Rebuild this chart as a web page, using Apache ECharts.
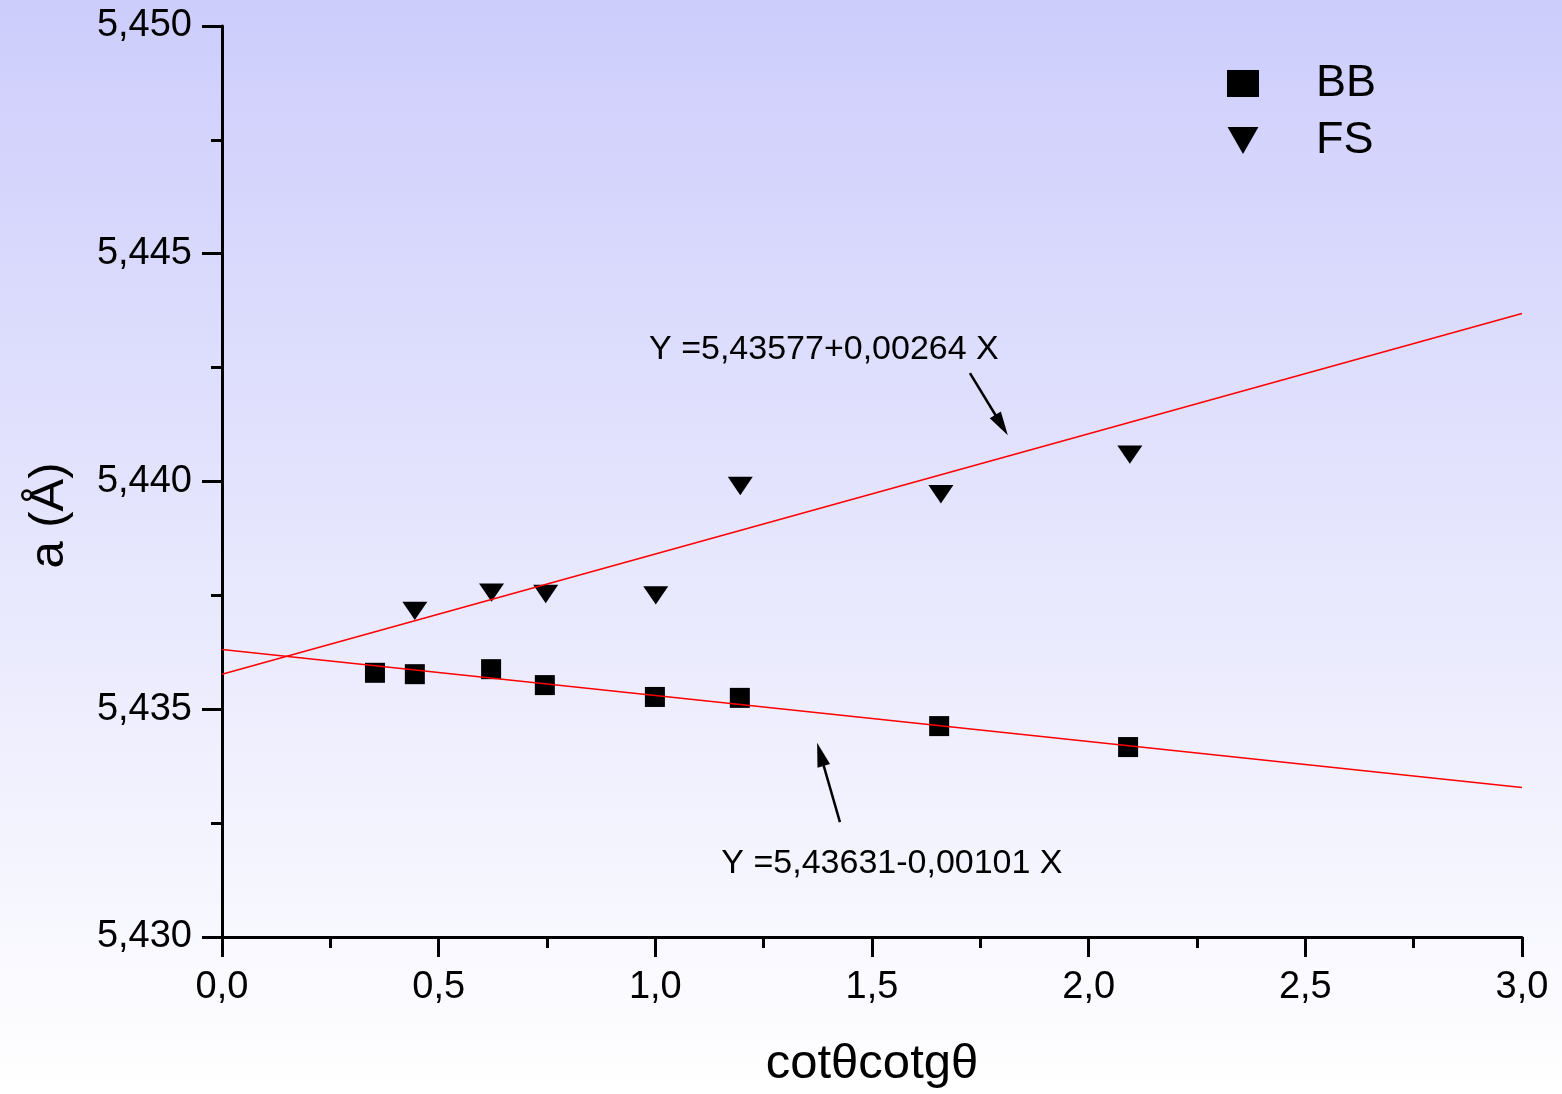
<!DOCTYPE html>
<html><head><meta charset="utf-8">
<script src="https://cdn.jsdelivr.net/npm/echarts@6/dist/echarts.min.js"></script>
<style>html,body{margin:0;padding:0;background:#fff;}#c{width:1562px;height:1094px;}</style>
</head><body><div id="c"></div>
<script>
// ---- data ----
const seriesNames = ['BB', 'FS'];
const bbX = [0.353, 0.445, 0.621, 0.745, 0.999, 1.195, 1.655, 2.091];
const bbY = [5.43580, 5.43577, 5.43588, 5.43553, 5.43527, 5.43525, 5.43463, 5.43417];
const fsX = [0.445, 0.622, 0.747, 1.001, 1.196, 1.659, 2.095];
const fsY = [5.43716, 5.43756, 5.43753, 5.43750, 5.43990, 5.43972, 5.44059];
const bbFitX = [0, 3];
const bbFitY = [5.43631, 5.43328];
const fsFitX = [0, 3];
const fsFitY = [5.43577, 5.44369];
const noteTexts = ['Y =5,43577+0,00264 X', 'Y =5,43631-0,00101 X'];
const noteX = [1.389, 1.546];
const noteY = [5.44290, 5.43162];
const arrowFromX = [1.726, 1.426];
const arrowFromY = [5.44238, 5.43252];
const arrowToX = [1.799, 1.381];
const arrowToY = [5.44124, 5.43401];
const xTitle = 'cotθcotgθ';
const yTitle = 'a (Å)';

const pairs = (xs, ys) => xs.map((x, i) => [x, ys[i]]);
const FONT = '"Liberation Sans", Arial, sans-serif';
const TRI = 'path://M0,0 L200,0 L100,175 Z';

const chart = echarts.init(document.getElementById('c'), null, {renderer: 'canvas'});
chart.setOption({
  animation: false,
  backgroundColor: {
    type: 'linear', x: 0, y: 0, x2: 0, y2: 1,
    colorStops: [{offset: 0, color: '#cdcdfc'}, {offset: 1, color: '#ffffff'}]
  },
  textStyle: {fontFamily: FONT},
  grid: {left: 222, right: 40, top: 26, bottom: 157, containLabel: false},
  legend: {
    orient: 'vertical', left: 1222, top: 56,
    itemWidth: 32, itemHeight: 27, itemGap: 12,
    data: seriesNames,
    textStyle: {fontFamily: FONT, fontSize: 45, color: '#000', padding: [0, 0, 0, 52]},
    selectedMode: false
  },
  xAxis: {
    type: 'value', min: 0, max: 3, interval: 0.5,
    name: xTitle, nameLocation: 'middle', nameGap: 103,
    nameTextStyle: {fontSize: 49, color: '#000', fontFamily: FONT},
    axisLine: {show: true, onZero: false, lineStyle: {color: '#000', width: 3}},
    axisTick: {show: true, inside: false, length: 20, lineStyle: {color: '#000', width: 3}},
    minorTick: {show: true, splitNumber: 2, length: 11, lineStyle: {color: '#000', width: 3}},
    splitLine: {show: false},
    axisLabel: {fontSize: 38, color: '#000', margin: 32, fontFamily: FONT,
      formatter: v => v.toFixed(1).replace('.', ',')}
  },
  yAxis: {
    type: 'value', min: 5.430, max: 5.450, interval: 0.005,
    name: yTitle, nameLocation: 'middle', nameGap: 148,
    nameTextStyle: {fontSize: 49, color: '#000', fontFamily: FONT, padding: [0, 68, 0, 0]},
    axisLine: {show: true, onZero: false, lineStyle: {color: '#000', width: 3}},
    axisTick: {show: true, inside: false, length: 20, lineStyle: {color: '#000', width: 3}},
    minorTick: {show: true, splitNumber: 2, length: 11, lineStyle: {color: '#000', width: 3}},
    splitLine: {show: false},
    axisLabel: {fontSize: 38, color: '#000', margin: 30, fontFamily: FONT,
      formatter: v => v.toFixed(3).replace('.', ',')}
  },
  series: [
    {
      name: 'BB', type: 'scatter', data: pairs(bbX, bbY),
      symbol: 'rect', symbolSize: 20, symbolKeepAspect: true,
      itemStyle: {color: '#000', opacity: 1}, z: 2
    },
    {
      name: 'FS', type: 'scatter', data: pairs(fsX, fsY),
      symbol: TRI, symbolSize: [25, 21], symbolKeepAspect: true,
      itemStyle: {color: '#000', opacity: 1}, z: 2
    },
    {
      name: 'BB fit', type: 'line', data: pairs(bbFitX, bbFitY),
      showSymbol: false, symbol: 'none', lineStyle: {color: '#ff0000', width: 1.5}, z: 3, silent: true
    },
    {
      name: 'FS fit', type: 'line', data: pairs(fsFitX, fsFitY),
      showSymbol: false, symbol: 'none', lineStyle: {color: '#ff0000', width: 1.5}, z: 3, silent: true,
      markLine: {
        silent: true, symbol: ['none', 'triangle'], symbolSize: [13, 24],
        lineStyle: {color: '#000', width: 2.5, type: 'solid', opacity: 1},
        itemStyle: {color: '#000'},
        label: {show: false},
        data: arrowFromX.map((x, i) => [
          {coord: [x, arrowFromY[i]]},
          {coord: [arrowToX[i], arrowToY[i]]}
        ])
      }
    },
    {
      name: 'notes', type: 'scatter', symbolSize: 0, silent: true,
      itemStyle: {opacity: 1},
      data: noteX.map((x, i) => ({value: [x, noteY[i]], name: noteTexts[i]})),
      label: {show: true, position: 'inside', formatter: p => p.name,
        fontSize: 34, color: '#000', opacity: 1, fontFamily: FONT},
      z: 4
    }
  ]
});
</script></body></html>
